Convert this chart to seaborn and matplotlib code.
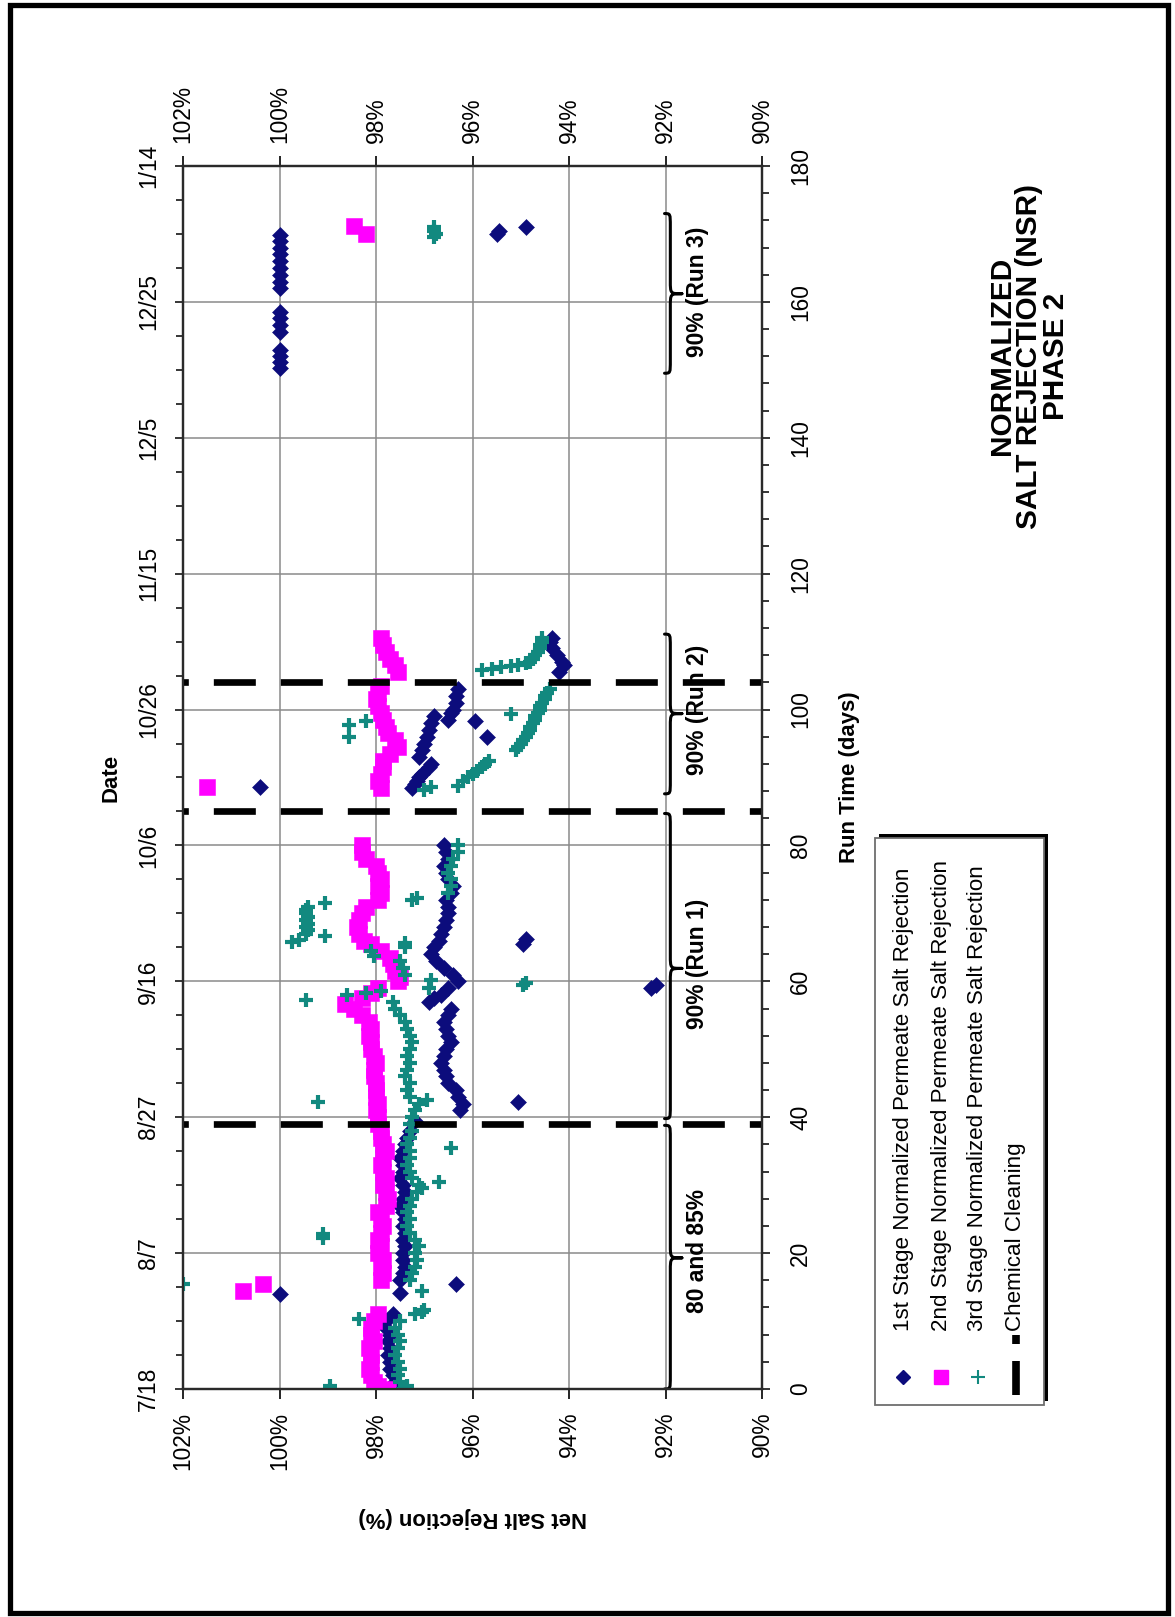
import numpy as np
import pandas as pd
import matplotlib
matplotlib.use("Agg")
import matplotlib.pyplot as plt
import seaborn as sns
from matplotlib import font_manager
from matplotlib.path import Path
from matplotlib.patches import PathPatch, Rectangle
from matplotlib.lines import Line2D
from matplotlib.ticker import MultipleLocator

# ---------------- data ----------------
# 1st stage (navy diamonds): run time (days) and net salt rejection (%)
s1_day_a = [0, 1, 2, 3, 4, 5, 6, 7, 8, 9, 10, 11, 14.0, 14.1, 15.5]
s1_val_a = [97.55, 97.6, 97.65, 97.7, 97.7, 97.75, 97.7, 97.75, 97.7, 97.8, 97.8, 97.65, 100.0, 97.5, 96.35]
s1_day_b = list(range(16, 39)) + [39.5]
s1_val_b = [97.5, 97.45, 97.4, 97.45, 97.45, 97.4, 97.45, 97.4, 97.45, 97.4, 97.45, 97.5, 97.45, 97.4,
            97.45, 97.5, 97.45, 97.45, 97.5, 97.45, 97.4, 97.35, 97.3, 97.2]
s1_day_c = [41, 42, 43, 44, 45, 46, 47, 48, 49, 50, 51, 52, 53, 54, 55, 56, 57, 57.5, 58, 59, 60,
            42.3, 59.0, 59.4]
s1_val_c = [96.25, 96.2, 96.3, 96.35, 96.5, 96.55, 96.6, 96.65, 96.6, 96.55, 96.45, 96.5, 96.55, 96.6,
            96.5, 96.45, 96.9, 96.8, 96.65, 96.5, 96.3, 95.05, 92.3, 92.2]
s1_day_d = list(range(61, 81)) + [65.5, 66.2]
s1_val_d = [96.4, 96.6, 96.75, 96.85, 96.8, 96.7, 96.65, 96.6, 96.55, 96.5, 96.5, 96.55, 96.45, 96.4,
            96.5, 96.55, 96.6, 96.5, 96.55, 96.6, 94.95, 94.9]
s1_day_e = [88.6, 88.5, 89, 89.5, 90, 90.5, 91.5, 92, 93, 94, 95, 96, 97, 98, 99,
            98.5, 99.5, 100, 101, 102, 103, 95.9, 98.3,
            105.5, 106.5, 107, 108, 109, 110, 110.5]
s1_val_e = [100.4, 97.25, 97.2, 97.15, 97.1, 97.05, 96.9, 96.85, 97.1, 97.05, 97.0, 96.95, 96.9, 96.85, 96.8,
            96.5, 96.45, 96.4, 96.35, 96.35, 96.3, 95.7, 95.95,
            94.2, 94.1, 94.15, 94.25, 94.35, 94.4, 94.35]
s1_day_f = [150.3, 151.2, 152.1, 152.9, 155.6, 156.6, 157.6, 158.5, 162, 163, 164, 165, 166, 167, 168,
            169, 169.9, 170, 170.5, 171]
s1_val_f = [100.0] * 17 + [95.5, 95.45, 94.9]

# 2nd stage (magenta squares)
s2_day_a = [0, 0.5, 1, 2, 3, 4, 5, 6, 7, 8, 9, 10, 11, 14.4, 15.5]
s2_val_a = [97.75, 97.95, 98.05, 98.1, 98.15, 98.1, 98.1, 98.15, 98.05, 98.1, 98.1, 98.05, 97.95, 100.75, 100.35]
s2_day_b = list(range(16, 39))
s2_val_b = [97.9, 97.85, 97.9, 97.85, 97.95, 97.9, 97.95, 97.9, 97.85, 97.9, 97.95, 97.8, 97.75, 97.8,
            97.85, 97.8, 97.85, 97.9, 97.85, 97.8, 97.85, 97.9, 97.9]
s2_day_c = list(range(39, 57)) + [56.7, 57.5, 58.3, 59, 60, 60.7]
s2_val_c = [97.95, 97.95, 98.0, 97.95, 98.0, 98.0, 98.0, 98.05, 98.05, 98.0, 98.05, 98.1, 98.1, 98.15,
            98.1, 98.15, 98.3, 98.45, 98.65, 98.3, 98.1, 97.95, 97.55, 97.5]
s2_day_d = [61.5, 62.5, 63.5, 64.5, 65.5, 66, 67, 68, 69, 70, 71, 72, 73, 74, 75, 76, 77, 78, 79, 80]
s2_val_d = [97.6, 97.65, 97.7, 97.9, 98.1, 98.25, 98.35, 98.4, 98.35, 98.3, 98.2, 97.95, 97.9, 97.95,
            97.9, 97.95, 98.0, 98.2, 98.3, 98.3]
s2_day_e = [88.6, 88.5, 89.5, 90.5, 91.5, 92.5, 93.5, 94.5, 95.5, 96.5, 97.5, 98.5, 99.5, 100.5, 101.5,
            102.5, 103.5, 105.5, 106.5, 107.5, 108.5, 109.5, 110.5, 170, 171.2]
s2_val_e = [101.5, 97.9, 97.95, 97.9, 97.85, 97.85, 97.7, 97.55, 97.6, 97.75, 97.8, 97.85, 97.9, 97.95,
            98.0, 97.95, 97.9, 97.55, 97.6, 97.7, 97.8, 97.85, 97.9, 98.2, 98.45]

# 3rd stage (teal crosses)
s3_day_a = [0, 0.4, 0.5, 1, 2, 3, 4, 5, 6, 7, 8, 9, 10, 10.3, 11, 11.3, 11.6, 14.4, 15.5]
s3_val_a = [97.45, 98.95, 97.35, 97.5, 97.55, 97.5, 97.55, 97.6, 97.55, 97.5, 97.55, 97.6, 97.5, 98.35,
            97.2, 97.05, 97.0, 97.05, 102.0]
s3_day_b = list(range(16, 39)) + [22.2, 22.8, 30.4, 35.4, 29.6]
s3_val_b = [97.3, 97.25, 97.2, 97.15, 97.2, 97.1, 97.2, 97.3, 97.35, 97.3, 97.35, 97.3, 97.25, 97.15,
            97.1, 97.25, 97.3, 97.35, 97.3, 97.3, 97.35, 97.3, 97.25, 99.1, 99.1, 96.7, 96.45, 97.05]
s3_day_c = [39, 40, 41, 42, 42.5, 43, 44, 45, 46, 47, 48, 49, 50, 51, 52, 53, 54, 55, 56, 57, 42.3]
s3_val_c = [97.3, 97.25, 97.2, 97.1, 96.95, 97.3, 97.35, 97.3, 97.4, 97.35, 97.3, 97.35, 97.3, 97.25,
            97.3, 97.35, 97.4, 97.5, 97.6, 97.65, 99.2]
s3_day_d = [57.2, 58, 58.3, 58.6, 59, 59.4, 59.8, 60.2, 61, 62, 63, 63.8, 64.5, 65, 65.6,
            65.8, 66.1, 66.6, 67, 67.5, 68, 68.5, 69, 69.5, 70, 70.5, 71, 71.5, 72, 72.3,
            73, 74, 75, 76, 77, 78, 79, 80]
s3_val_d = [99.45, 98.6, 98.2, 97.9, 96.9, 94.95, 94.9, 96.85, 97.4, 97.45, 97.5, 98.05, 98.1, 97.4, 97.4,
            99.75, 99.6, 99.05, 99.45, 99.4, 99.45, 99.4, 99.45, 99.4, 99.45, 99.45, 99.4, 99.05, 97.25, 97.15,
            96.5, 96.45, 96.45, 96.5, 96.45, 96.4, 96.3, 96.3]
s3_day_e = [88.2, 88.6, 88.8, 89.5, 90, 90.5, 91, 91.5, 92, 92.5,
            94, 94.5, 95, 95.5, 96, 96.5, 97, 97.5, 98, 98.5, 99, 99.5, 100, 100.5, 101, 101.5, 102, 102.5, 103,
            99.4, 96.0, 97.8, 98.3]
s3_val_e = [97.0, 96.85, 96.3, 96.2, 96.1, 96.0, 95.9, 95.8, 95.75, 95.65,
            95.1, 95.05, 95.0, 94.95, 94.9, 94.85, 94.8, 94.8, 94.75, 94.7, 94.7, 94.65, 94.6, 94.6, 94.55,
            94.5, 94.5, 94.45, 94.4, 95.2, 98.55, 98.55, 98.2]
s3_day_f = [105.8, 106, 106.2, 106.4, 106.6, 106.8, 107, 107.5, 108, 108.5, 109, 109.5, 110, 110.5,
            169.5, 170, 170.5, 171]
s3_val_f = [95.8, 95.6, 95.4, 95.2, 95.05, 94.9, 94.8, 94.75, 94.7, 94.65, 94.6, 94.6, 94.55, 94.55,
            96.8, 96.75, 96.8, 96.8]

cleaning_days = [39, 85, 104]

brace_start = [0, 39.8, 87.6, 149.5]
brace_end = [38.8, 84.7, 111.1, 173.0]
brace_tip = [19.3, 61.9, 99.4, 161.2]
brace_label = ["80 and 85%", "90% (Run 1)", "90% (Run 2)", "90% (Run 3)"]
brace_label_day = [20.3, 62.5, 100.0, 161.5]

pct_ticks = [102, 100, 98, 96, 94, 92, 90]
pct_labels = [f"{v}%" for v in pct_ticks]
day_ticks = [0, 20, 40, 60, 80, 100, 120, 140, 160, 180]
date_labels = ["7/18", "8/7", "8/27", "9/16", "10/6", "10/26", "11/15", "12/5", "12/25", "1/14"]

legend_labels = ["1st Stage Normalized Permeate Salt Rejection",
                 "2nd Stage Normalized Permeate Salt Rejection",
                 "3rd Stage Normalized Permeate Salt Rejection",
                 "Chemical Cleaning"]
title_text = "NORMALIZED\nSALT REJECTION (NSR)\nPHASE 2"

NAVY = "#0c0c7c"
MAG = "#ff00ff"
TEAL = "#12897f"

# ---------------- style ----------------
sns.set_theme(style="ticks")
names = {f.name for f in font_manager.fontManager.ttflist}
HAS_NARROW = "Liberation Sans Narrow" in names
if HAS_NARROW:
    FAM = ["Liberation Sans Narrow", "Liberation Sans", "DejaVu Sans"]
    k = 1.0
else:
    FAM = ["Liberation Sans", "DejaVu Sans"]
    k = 0.84
plt.rcParams["font.family"] = FAM
plt.rcParams["axes.edgecolor"] = "#2a2a2a"

W, H = 1175, 1617
fig = plt.figure(figsize=(W / 100, H / 100), dpi=100)
fig.patch.set_facecolor("white")


def fx(px):
    return px / W


def fy(py):
    return 1 - py / H


AX_L, AX_R, AX_T, AX_B = 183, 762, 166, 1389
ax = fig.add_axes([fx(AX_L), fy(AX_B), (AX_R - AX_L) / W, (AX_B - AX_T) / H])
ax.set_facecolor("white")

df1 = pd.DataFrame({"day": s1_day_a + s1_day_b + s1_day_c + s1_day_d + s1_day_e + s1_day_f,
                    "rej": s1_val_a + s1_val_b + s1_val_c + s1_val_d + s1_val_e + s1_val_f})
df2 = pd.DataFrame({"day": s2_day_a + s2_day_b + s2_day_c + s2_day_d + s2_day_e,
                    "rej": s2_val_a + s2_val_b + s2_val_c + s2_val_d + s2_val_e})
df3 = pd.DataFrame({"day": s3_day_a + s3_day_b + s3_day_c + s3_day_d + s3_day_e + s3_day_f,
                    "rej": s3_val_a + s3_val_b + s3_val_c + s3_val_d + s3_val_e + s3_val_f})

sns.scatterplot(data=df1, x="rej", y="day", marker="D", s=66, color=NAVY, edgecolor=NAVY,
                linewidth=0.4, ax=ax, zorder=3)
sns.scatterplot(data=df2, x="rej", y="day", marker="s", s=120, color=MAG, edgecolor=MAG,
                linewidth=0.4, ax=ax, zorder=3)
sns.scatterplot(data=df3, x="rej", y="day", marker="+", s=110, color=TEAL,
                linewidth=3.0, ax=ax, zorder=3)

ax.set_xlim(102, 90)
ax.set_ylim(0, 180)

# chemical cleaning lines
for d in cleaning_days:
    ax.axhline(d, color="black", lw=4.8, ls=(5.5, (6.3, 3.75)), zorder=4)

# braces


def brace(d0, d1, dm, v_end=92.02, v_line=91.9, v_tip=91.66, r=1.9):
    verts = [(v_end, d0),
             (v_line, d0), (v_line, d0), (v_line, d0 + r),
             (v_line, dm - r),
             (v_line, dm), (v_line, dm), (v_tip, dm),
             (v_line, dm), (v_line, dm), (v_line, dm + r),
             (v_line, d1 - r),
             (v_line, d1), (v_line, d1), (v_end, d1)]
    codes = [Path.MOVETO, Path.CURVE4, Path.CURVE4, Path.CURVE4, Path.LINETO,
             Path.CURVE4, Path.CURVE4, Path.CURVE4, Path.CURVE4, Path.CURVE4, Path.CURVE4,
             Path.LINETO, Path.CURVE4, Path.CURVE4, Path.CURVE4]
    ax.add_patch(PathPatch(Path(verts, codes), fill=False, ec="black", lw=2.2, zorder=5,
                           capstyle="round", joinstyle="round"))


for a, b, m, lab, ld in zip(brace_start, brace_end, brace_tip, brace_label, brace_label_day):
    brace(a, b, m)
    ax.text(91.33, ld, lab, rotation=90, ha="center", va="center", fontsize=19.5 * k,
            fontweight="bold", color="black", zorder=6)

# grid, spines
ax.set_axisbelow(True)
ax.grid(True, which="major", axis="both", color="#8a8a8a", lw=1.1)
for sp in ax.spines.values():
    sp.set_linewidth(1.6)
    sp.set_visible(True)

# percent axis (top and bottom)
ax.set_xticks(pct_ticks, labels=pct_labels)
ax.tick_params(axis="x", which="major", top=True, bottom=True, labeltop=True, labelbottom=True,
               labelrotation=90, direction="out", length=7.5, width=1.2, pad=9,
               labelsize=19.5 * k, colors="black")

# date axis (left)
ax.set_yticks(day_ticks, labels=date_labels, rotation=90, va="center")
ax.yaxis.set_minor_locator(MultipleLocator(5))
ax.tick_params(axis="y", which="both", left=True, right=False, labelleft=True, labelright=False,
               direction="out", width=1.1, labelsize=19.5 * k, colors="black")
ax.tick_params(axis="y", which="major", length=6, pad=10.5)
ax.tick_params(axis="y", which="minor", length=5)

# run time axis (right)
ax2 = ax.twinx()
ax2.set_ylim(0, 180)
ax2.set_yticks(day_ticks, labels=[str(d) for d in day_ticks], rotation=90, va="center")
ax2.yaxis.set_minor_locator(MultipleLocator(4))
ax2.tick_params(axis="y", which="both", direction="out", width=1.1, labelsize=19.5 * k, colors="black")
ax2.tick_params(axis="y", which="major", length=6, pad=13.5)
ax2.tick_params(axis="y", which="minor", length=5)
for sp in ax2.spines.values():
    sp.set_linewidth(1.6)

# axis labels
ax.set_xlabel("Net Salt Rejection (%)", rotation=180, fontsize=19 * k, fontweight="bold",
              va="center", ha="center", color="black")
ax.xaxis.set_label_coords(0.5, (AX_B - 1517) / (AX_B - AX_T))
ax.set_ylabel("Date", rotation=90, fontsize=19 * k, fontweight="bold", va="center", ha="center",
              color="black")
ax.yaxis.set_label_coords((111 - AX_L) / (AX_R - AX_L), 0.5)
ax2.set_ylabel("Run Time (days)", rotation=90, fontsize=19 * k, fontweight="bold", va="center",
               ha="center", color="black")
ax2.yaxis.set_label_coords((850 - AX_L) / (AX_R - AX_L), 0.5)

# title
fig.text(fx(1029), fy(356), title_text, rotation=90, ha="center", va="center", multialignment="center",
         fontsize=25.5 * k, fontweight="bold", linespacing=0.95, color="black")

# legend (drawn rotated, like the page)
LG_L, LG_R, LG_T, LG_B = 875, 1044, 838, 1405
fig.add_artist(Rectangle((fx(LG_L + 4), fy(LG_B - 4)), (LG_R - LG_L) / W, (LG_B - LG_T) / H,
                         transform=fig.transFigure, fc="black", ec="none", zorder=1))
fig.add_artist(Rectangle((fx(LG_L), fy(LG_B)), (LG_R - LG_L) / W, (LG_B - LG_T) / H,
                         transform=fig.transFigure, fc="white", ec="#6e6e6e", lw=1.3, zorder=2))
row_x = [903, 941, 978, 1016]
mk_y = 1377
fig.add_artist(Line2D([fx(row_x[0])], [fy(mk_y)], marker="D", ms=7.6, color=NAVY, ls="none",
                      transform=fig.transFigure, zorder=3))
fig.add_artist(Line2D([fx(row_x[1])], [fy(mk_y)], marker="s", ms=10.0, color=MAG, ls="none",
                      transform=fig.transFigure, zorder=3))
fig.add_artist(Line2D([fx(row_x[2])], [fy(mk_y)], marker="+", ms=9.5, mew=1.5, color=TEAL, ls="none",
                      transform=fig.transFigure, zorder=3))
fig.add_artist(Line2D([fx(row_x[3])] * 2, [fy(1395), fy(1361)], color="black", lw=5.5,
                      solid_capstyle="butt", transform=fig.transFigure, zorder=3))
fig.add_artist(Line2D([fx(row_x[3])] * 2, [fy(1344), fy(1335)], color="black", lw=5.5,
                      solid_capstyle="butt", transform=fig.transFigure, zorder=3))
for xx, lab in zip(row_x, legend_labels):
    fig.text(fx(xx), fy(1331), lab, rotation=90, ha="center", va="bottom", fontsize=19.2 * k,
             color="black", zorder=4)

# page frame
fig.add_artist(Rectangle((fx(9.5), fy(1613)), (1168 - 9.5) / W, (1613 - 5.5) / H,
                         transform=fig.transFigure, fill=False, ec="black", lw=3.8, zorder=10))

fig.savefig("out.png", dpi=100, facecolor="white")
